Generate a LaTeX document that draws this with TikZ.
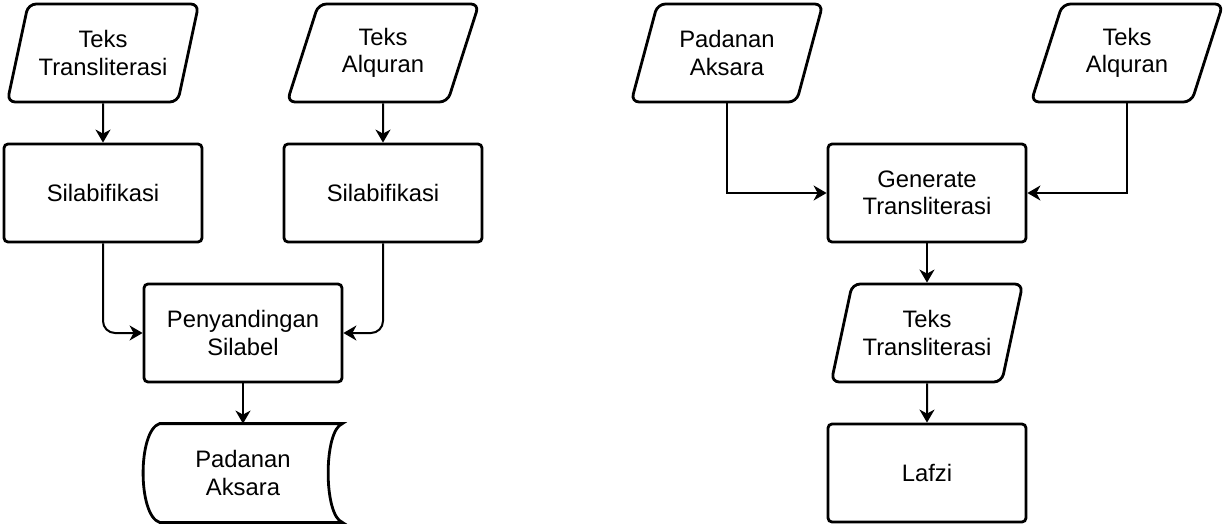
\documentclass[tikz,border=0pt]{standalone}
\usepackage{fontspec}
\setmainfont{Liberation Sans}
\usetikzlibrary{arrows.meta,shapes.geometric}
\tikzset{
  teks/.style={font=\fontsize{11.9}{13.6}\selectfont,align=center},
  proses/.style={teks,draw,line width=1.4pt,rounded corners=2pt,minimum width=99pt,minimum height=49pt},
  data/.style={teks,trapezium,trapezium left angle=68,trapezium right angle=112,trapezium stretches=true,
    draw,line width=1.4pt,rounded corners=4pt,minimum width=96pt,minimum height=49pt,inner sep=0pt},
  simpan/.style={teks,minimum width=99pt,minimum height=49pt},
  panah/.style={-{Stealth[length=6.5pt,width=7.5pt,inset=2pt]},line width=1pt},
}
\begin{document}
\begin{tikzpicture}[x=0.5pt,y=-0.5pt]
\useasboundingbox (0,0) rectangle (1228,524);
\node[data] (tt1) at (103,53) {Teks\\Transliterasi};
\node[data] (ta1) at (383,53) {Teks\\Alquran};
\node[proses] (sil1) at (103,193) {Silabifikasi};
\node[proses] (sil2) at (383,193) {Silabifikasi};
\node[proses] (peny) at (243,333) {Penyandingan\\Silabel};
\node[simpan] (pad1) at (243,473) {Padanan\\Aksara};
\draw[line width=1.4pt] ([xshift=8pt]pad1.north west) -- (pad1.north east)
  .. controls +(-19,7) and +(-19,-7) .. (pad1.south east)
  -- ([xshift=8pt]pad1.south west)
  .. controls +(-22,-7) and +(-22,7) .. ([xshift=8pt]pad1.north west) -- cycle;
\draw[panah] (tt1) -- (sil1);
\draw[panah] (ta1) -- (sil2);
\draw[panah,rounded corners=6pt] (sil1) |- (peny);
\draw[panah,rounded corners=6pt] (sil2) |- (peny);
\draw[panah] (peny) -- (pad1.north);

\node[data] (pa2) at (727,53) {Padanan\\Aksara};
\node[data] (ta2) at (1127,53) {Teks\\Alquran};
\node[proses] (gen) at (927,193) {Generate\\Transliterasi};
\node[data] (tt2) at (927,333) {Teks\\Transliterasi};
\node[proses] (lafzi) at (927,473) {Lafzi};
\draw[panah] (pa2) |- (gen);
\draw[panah] (ta2) |- (gen);
\draw[panah] (gen) -- (tt2);
\draw[panah] (tt2) -- (lafzi);
\end{tikzpicture}
\end{document}
